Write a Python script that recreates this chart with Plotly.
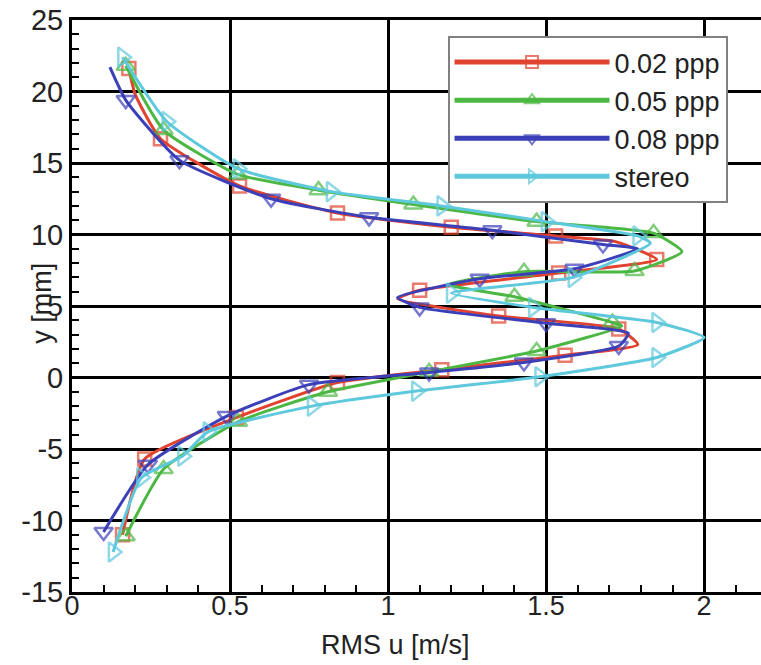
import plotly.graph_objects as go

# ---------------- data ----------------
series_names = ["0.02 ppp", "0.05 ppp", "0.08 ppp", "stereo"]

red_x = [0.18, 0.20, 0.28, 0.53, 0.84, 1.20, 1.53, 1.72, 1.85, 1.54, 1.10, 1.03, 1.35, 1.73, 1.79, 1.56, 1.17, 0.84, 0.52, 0.23, 0.16]
red_y = [21.6, 19.8, 16.7, 13.4, 11.5, 10.5, 9.9, 9.5, 8.25, 7.3, 6.1, 5.5, 4.3, 3.4, 2.3, 1.55, 0.55, -0.35, -2.8, -5.7, -11.0]
red_marked = [1, 0, 1, 1, 1, 1, 1, 0, 1, 1, 1, 0, 1, 1, 0, 1, 1, 1, 1, 1, 1]

green_x = [0.17, 0.29, 0.525, 0.78, 1.08, 1.47, 1.84, 1.93, 1.78, 1.43, 1.19, 1.40, 1.71, 1.74, 1.47, 1.13, 0.81, 0.525, 0.29, 0.17]
green_y = [21.8, 17.3, 14.2, 13.1, 12.1, 10.9, 10.1, 8.8, 7.45, 7.4, 6.5, 5.65, 3.85, 3.6, 1.85, 0.4, -1.0, -3.1, -6.4, -11.1]
green_marked = [1, 1, 1, 1, 1, 1, 1, 0, 1, 1, 0, 1, 1, 0, 1, 1, 1, 1, 1, 1]

blue_x = [0.12, 0.17, 0.34, 0.63, 0.94, 1.33, 1.68, 1.79, 1.59, 1.29, 1.03, 1.10, 1.50, 1.76, 1.73, 1.43, 1.13, 0.75, 0.49, 0.24, 0.10]
blue_y = [21.7, 19.4, 15.2, 12.5, 11.2, 10.3, 9.3, 9.0, 7.6, 6.9, 5.6, 4.9, 3.8, 3.1, 2.2, 1.05, 0.35, -0.5, -2.7, -6.1, -10.8]
blue_marked = [0, 1, 1, 1, 1, 1, 1, 0, 1, 1, 0, 1, 1, 0, 1, 1, 1, 1, 1, 1, 1]

cyan_x = [0.16, 0.30, 0.525, 0.82, 1.17, 1.50, 1.79, 1.83, 1.585, 1.20, 1.46, 1.85, 2.00, 1.85, 1.48, 1.09, 0.76, 0.43, 0.35, 0.22, 0.13]
cyan_y = [22.4, 17.9, 14.6, 13.0, 12.0, 10.9, 9.9, 9.4, 7.0, 5.9, 4.9, 3.85, 2.8, 1.4, 0.05, -0.95, -2.0, -3.8, -5.5, -7.0, -12.2]
cyan_marked = [1, 1, 1, 1, 1, 1, 1, 0, 1, 1, 1, 1, 0, 1, 1, 1, 1, 1, 1, 1, 1]

x_tick_vals = [0, 0.5, 1, 1.5, 2]
x_tick_text = ["0", "0.5", "1", "1.5", "2"]
y_tick_vals = [-15, -10, -5, 0, 5, 10, 15, 20, 25]
y_tick_text = ["-15", "-10", "-5", "0", "5", "10", "15", "20", "25"]

# ---------------- styling ----------------
colors = ["#e0432f", "#4cb843", "#3b3fb8", "#5ec8dc"]
symbols = ["square-open", "triangle-up-open", "triangle-down-open", "triangle-right-open"]
msizes = [13, 16, 16, 17]

FONT = "Liberation Sans, Arial, sans-serif"

fig = go.Figure()
all_series = [
    (red_x, red_y, red_marked),
    (green_x, green_y, green_marked),
    (blue_x, blue_y, blue_marked),
    (cyan_x, cyan_y, cyan_marked),
]
for i, (xs, ys, mk) in enumerate(all_series):
    fig.add_trace(go.Scatter(
        x=xs, y=ys, name=series_names[i],
        mode="lines+markers",
        line=dict(color=colors[i], width=3, shape="spline", smoothing=0.5),
        marker=dict(symbol=symbols[i], size=[msizes[i] if m else 0 for m in mk],
                    color=colors[i], line=dict(width=2.5, color=colors[i])),
    ))

fig.update_layout(
    width=761, height=665,
    margin=dict(l=72, r=0, t=20, b=73, autoexpand=False),
    paper_bgcolor="white", plot_bgcolor="white",
    font=dict(family=FONT, size=26, color="#222"),
    showlegend=True,
    legend=dict(
        x=0.545, y=0.972, xanchor="left", yanchor="top",
        bgcolor="white", bordercolor="#808080", borderwidth=2,
        font=dict(family=FONT, size=27, color="#222"),
        itemsizing="constant", itemwidth=155, tracegroupgap=0,
    ),
    xaxis=dict(
        range=[0, 2.18], tickvals=x_tick_vals, ticktext=x_tick_text, automargin=False,
        showgrid=True, gridcolor="black", gridwidth=3,
        zeroline=False, showline=True, linecolor="black", linewidth=3, mirror=True,
        ticks="inside", ticklen=0, tickfont=dict(size=27, color="#222"),
        ticklabelstandoff=-12, ticklabeloverflow="allow",
        minor=dict(dtick=0.1, ticks="inside", ticklen=7, tickcolor="black", tickwidth=1.5, showgrid=False),
    ),
    yaxis=dict(
        range=[-15, 25], tickvals=y_tick_vals, ticktext=y_tick_text, automargin=False,
        showgrid=True, gridcolor="black", gridwidth=3,
        zeroline=False, showline=True, linecolor="black", linewidth=3,
        ticks="inside", ticklen=0, tickfont=dict(size=29, color="#222"),
        ticklabeloverflow="allow",
        minor=dict(dtick=1, ticks="inside", ticklen=7, tickcolor="black", tickwidth=1.5, showgrid=False),
    ),
    annotations=[
        dict(text="RMS u [m/s]", xref="paper", yref="paper", x=0.470, y=-0.093,
             xanchor="center", yanchor="middle", showarrow=False,
             font=dict(family=FONT, size=27, color="#222")),
        dict(text="y [mm]", xref="paper", yref="paper", x=-0.044, y=0.505,
             xanchor="center", yanchor="middle", textangle=-90, showarrow=False,
             font=dict(family=FONT, size=27, color="#222")),
    ],
)

fig.write_html("out.html", config={"displayModeBar": False},
               post_script="document.body.style.margin='0';document.body.style.overflow='hidden';")
